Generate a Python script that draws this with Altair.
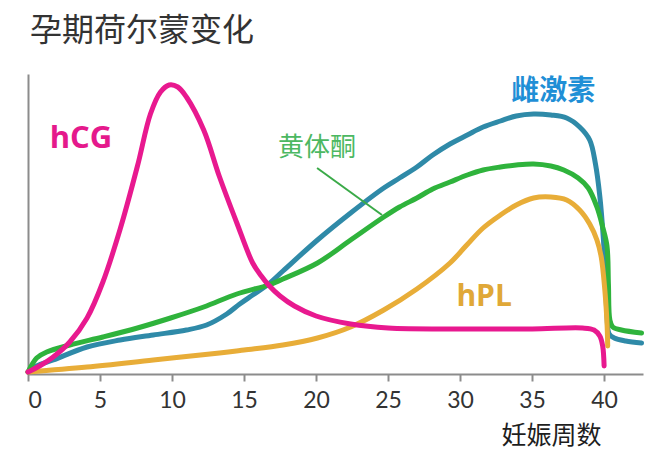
import altair as alt
import pandas as pd

# ---- data ----
hcg_weeks = [0, 0.8, 1.75, 2.9, 4.1, 5.2, 6.4, 7.6, 8.5, 9.2, 9.8, 10.4, 11.0, 12.2, 13.3, 14.5, 15.6, 16.2, 16.7, 17.5, 18.5, 20, 22.4, 25, 30, 35, 38.5, 39.3, 39.7, 39.9, 40.0]
hcg_vals = [2, 8, 17, 32, 56, 92, 145, 208, 260, 282, 289, 287, 277, 244, 197, 151, 111, 98, 89, 78, 68, 58, 50, 46, 45, 45, 46, 44, 38, 28, 8]

est_weeks = [0, 0.6, 1.75, 4.1, 6.4, 8.7, 11.0, 12.4, 13.8, 14.7, 15.6, 16.7, 17.7, 20.1, 22.4, 24.7, 25.8, 27.0, 28.1, 29.3, 30.5, 31.6, 32.8, 33.9, 35.1, 36.3, 37.4, 38.3, 39.0, 39.4, 39.7, 39.95, 40.1, 40.2, 40.35, 40.7, 41.5, 42.6]
est_vals = [2, 8, 14, 27, 34, 39, 44, 49, 60, 70, 79, 90, 103, 134, 161, 186, 196, 207, 219, 230, 239, 247, 253, 258, 260, 259, 256, 247, 234, 210, 178, 135, 95, 58, 40, 36, 33, 31]

pro_weeks = [0, 0.3, 0.6, 1.3, 2.9, 5.2, 7.6, 9.9, 12.2, 14.5, 16.7, 17.7, 20.1, 22.4, 24.7, 25.8, 27.0, 28.1, 29.3, 30.5, 31.6, 32.8, 33.9, 35.1, 36.3, 37.2, 38.2, 38.9, 39.5, 39.9, 40.2, 40.3, 40.4, 40.6, 41.2, 42.6]
pro_vals = [2, 10, 16, 22, 29, 37, 46, 56, 67, 80, 89, 95, 111, 134, 157, 167, 176, 185, 192, 199, 204, 207, 209, 210, 208, 204, 196, 186, 167, 147, 128, 90, 54, 47, 44, 41]

hpl_weeks = [0, 4.1, 8.7, 13.3, 15.0, 17.7, 20.1, 22.4, 24.7, 27.0, 29.3, 30.4, 31.6, 32.8, 33.9, 35.1, 36.3, 37.4, 38.3, 39.0, 39.5, 39.8, 40.05, 40.2, 40.25]
hpl_vals = [2, 7, 14, 21, 24, 29, 36, 47, 64, 85, 111, 128, 146, 159, 169, 176, 177, 174, 164, 150, 134, 117, 84, 51, 28]

label_texts = ["hCG", "雌激素", "黄体酮", "hPL"]
label_weeks = [3.68, 36.46, 20.07, 31.67]
label_vals = [235, 282, 226, 77]

leader_weeks = [20.07, 24.58]
leader_vals = [206, 159]

x_ticks = [0, 5, 10, 15, 20, 25, 30, 35, 40]

COL_HCG = "#e8198f"
COL_EST = "#2f8aa8"
COL_PRO = "#2fb33c"
COL_HPL = "#e8ad38"

xscale = alt.Scale(domain=[0, 42.7], nice=False, zero=False)
yscale = alt.Scale(domain=[0, 300], nice=False)

xaxis = alt.Axis(values=x_ticks, grid=False, domainColor="#8c8c8c", domainWidth=2,
                 tickColor="#8c8c8c", tickWidth=2, tickSize=7,
                 labelFontSize=23, labelColor="#333333", labelFont="Lato",
                 labelPadding=8, title="妊娠周数", titleFont="Noto Sans CJK SC",
                 titleFontSize=25, titleFontWeight="normal", titleColor="#1e1e1e",
                 titleX=523, titleY=61, titleAlign="center", titleBaseline="middle")
yaxis = alt.Axis(grid=False, ticks=False, labels=False, title=None,
                 domainColor="#8c8c8c", domainWidth=2)


def line(weeks, vals, color):
    df = pd.DataFrame({"week": weeks, "value": vals})
    return alt.Chart(df).mark_line(color=color, strokeWidth=5, interpolate="catmull-rom",
                                   strokeCap="round").encode(
        x=alt.X("week:Q", scale=xscale, axis=xaxis),
        y=alt.Y("value:Q", scale=yscale, axis=yaxis),
    )


def label(i, color, size, weight, font):
    df = pd.DataFrame({"week": [label_weeks[i]], "value": [label_vals[i]], "t": [label_texts[i]]})
    return alt.Chart(df).mark_text(color=color, fontSize=size, fontWeight=weight, font=font,
                                   align="center", baseline="middle").encode(
        x=alt.X("week:Q", scale=xscale),
        y=alt.Y("value:Q", scale=yscale),
        text="t:N",
    )


leader_df = pd.DataFrame({"x1": [leader_weeks[0]], "x2": [leader_weeks[1]],
                          "y1": [leader_vals[0]], "y2": [leader_vals[1]]})
leader = alt.Chart(leader_df).mark_rule(color="#3aaa48", strokeWidth=2).encode(
    x=alt.X("x1:Q", scale=xscale), x2="x2:Q",
    y=alt.Y("y1:Q", scale=yscale), y2="y2:Q",
)

chart = alt.layer(
    line(est_weeks, est_vals, COL_EST),
    line(pro_weeks, pro_vals, COL_PRO),
    line(hpl_weeks, hpl_vals, COL_HPL),
    line(hcg_weeks, hcg_vals, COL_HCG),
    leader,
    label(0, "#e5198c", 31, "bold", "Open Sans"),
    label(1, "#1f8fd6", 28, "bold", "Noto Sans CJK SC"),
    label(2, "#4cb862", 26, "normal", "Noto Sans CJK SC"),
    label(3, "#e0a838", 30, "bold", "Open Sans"),
).properties(
    width=615, height=300,
    autosize=alt.AutoSizeParams(type="none"),
    padding={"left": 20, "top": 66, "right": 19, "bottom": 76},
    title=alt.TitleParams("孕期荷尔蒙变化", anchor="start", dx=2, offset=11,
                          baseline="middle", fontSize=32, font="Noto Sans CJK SC",
                          fontWeight="normal", color="#333333", frame="group"),
).configure_view(stroke=None)

chart.save("out.html", embed_options={"renderer": "svg", "actions": False})
